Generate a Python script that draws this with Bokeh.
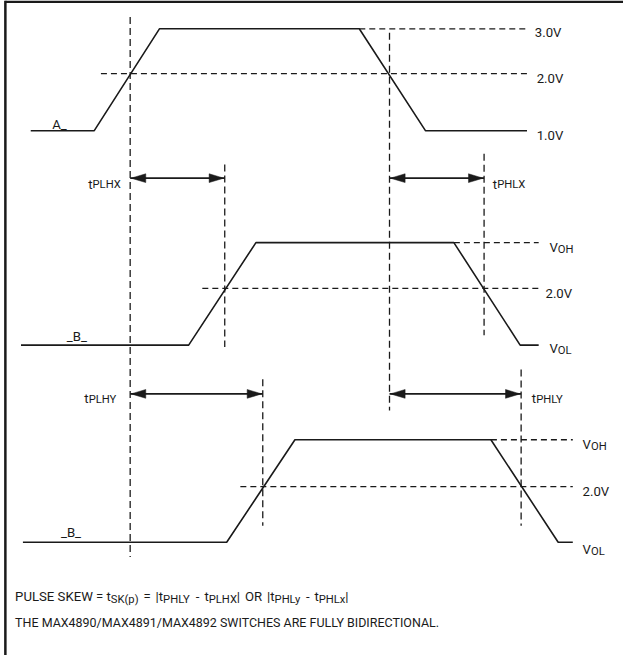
from bokeh.plotting import figure
from bokeh.models import Range1d
from bokeh.core.properties import value
from bokeh.embed import file_html
from bokeh.resources import INLINE

FONT = "Roboto"
INK = "#1a1a1a"

# ---- waveform data (diagram units = reference pixels, y grows downward) ----
a_x = [31, 96, 163, 368, 436, 540]
a_y = [133.5, 133.5, 29, 29, 133.5, 133.5]
b1_x = [21, 193, 262, 465, 533, 552]
b1_y = [353, 353, 248, 248, 353, 353]
b2_x = [23, 232, 302, 503, 572, 587]
b2_y = [555, 555, 450, 450, 555, 555]

# horizontal reference (dashed) levels: x0, x1, y
href_x0 = [368, 103, 465, 207, 503, 246]
href_x1 = [540, 540, 552, 552, 587, 587]
href_y = [29, 75, 248, 295, 450, 498]

# vertical timing markers: x, y0, y1
vref_x = [133, 230, 399, 496, 269, 534]
vref_y0 = [17, 168, 33, 157, 388, 378]
vref_y1 = [570, 355, 420, 343, 538, 538]

# timing arrows: x0, x1, y
arr_x0 = [133, 399, 133, 399]
arr_x1 = [230, 496, 269, 534]
arr_y = [182, 182, 403, 403]

# level labels
lvl_text = ["3.0V", "2.0V", "1.0V", "2.0V", "2.0V"]
lvl_x = [548, 550, 550, 559, 597]
lvl_y = [33, 80, 138, 300, 503]

# timing labels
tl_sub = ["PLHX", "PHLX", "PLHY", "PHLY"]
tl_x = [90, 505, 86, 545]
tl_y = [188, 188, 408, 408]

# V levels
vl_sub = ["OH", "OL", "OH", "OL"]
vl_x = [563, 563, 597, 597]
vl_y = [253, 357, 455, 562]

REF_W, REF_H = 639, 671
FIG_W, FIG_H = 623, 655
K = FIG_W / REF_W          # screen px per diagram unit

M = 13.5 * K   # main text size (px)
S = 11.5 * K   # subscript size (px)

# approximate Roboto advance widths (em)
W = {" ": .248, "(": .342, ")": .348, "-": .276, ".": .262, "/": .411, "=": .549,
     "|": .243, "_": .441, "A": .652, "B": .623, "C": .651, "D": .656, "E": .567,
     "F": .552, "H": .713, "I": .272, "K": .627, "L": .538, "M": .873, "N": .713,
     "O": .687, "P": .631, "R": .616, "S": .593, "T": .596, "U": .648, "V": .637,
     "W": .887, "X": .627, "Y": .601, "p": .56, "t": .327, "x": .49, "y": .474}


def width(s, size):
    """width in diagram units"""
    return sum(W.get(c, .562) for c in s) * size / K


p = figure(width=FIG_W, height=FIG_H, x_range=Range1d(0, REF_W), y_range=Range1d(REF_H, 0),
           output_backend="svg", toolbar_location=None,
           x_axis_location=None, y_axis_location=None, min_border=0)
p.grid.visible = False
p.outline_line_color = None
p.background_fill_color = "white"
p.border_fill_color = "white"

# frame edges (top and left)
p.line([5, 5], [0, REF_H], line_color=INK, line_width=2.5)
p.line([5, REF_W], [1.2, 1.2], line_color=INK, line_width=2.5)

# waveforms
for xs, ys in ((a_x, a_y), (b1_x, b1_y), (b2_x, b2_y)):
    p.line(xs, ys, line_color=INK, line_width=1.6)

# dashed references
p.segment(x0=href_x0, x1=href_x1, y0=href_y, y1=href_y,
          line_color=INK, line_width=1.3, line_dash="6 4")
p.segment(x0=vref_x, x1=vref_x, y0=vref_y0, y1=vref_y1,
          line_color=INK, line_width=1.3, line_dash="7 4")

# arrows with slender heads
p.segment(x0=arr_x0, x1=arr_x1, y0=arr_y, y1=arr_y, line_color=INK, line_width=1.6)
HL, HW = 15, 4.5
hx, hy = [], []
for x0, x1, y in zip(arr_x0, arr_x1, arr_y):
    x0 += 1
    x1 -= 1
    hx.append([x0, x0 + HL, x0 + HL])
    hy.append([y, y - HW, y + HW])
    hx.append([x1, x1 - HL, x1 - HL])
    hy.append([y, y - HW, y + HW])
p.patches(hx, hy, fill_color=INK, line_color=INK, line_width=0.5)


def txt(x, y, s, size=M):
    p.text(x=[x], y=[y], text=[s], text_font=value(FONT), text_font_size=f"{size:.2f}px",
           text_baseline="alphabetic", text_align="left", text_color=INK)


def sub(x, y, s, size=S, drop=2.5):
    txt(x, y + drop, s, size)


# level labels
for s, x, y in zip(lvl_text, lvl_x, lvl_y):
    txt(x, y, s)

txt(53, 127, "A_")
txt(68, 344, "_B_")
txt(62, 545, "_B_")

for s, x, y in zip(vl_sub, vl_x, vl_y):
    txt(x, y, "V")
    sub(x + width("V", M), y, s, drop=2)

for s, x, y in zip(tl_sub, tl_x, tl_y):
    txt(x, y, "t")
    sub(x + width("t", M), y, s, drop=1)

# formula line: pieces laid out left to right, spaces stretched to the reference extent
pieces = [("PULSE SKEW = t", "m"), ("SK(p)", "s"), (" ", "g"), ("=", "m"), (" ", "g"),
          ("|t", "m"), ("PHLY", "s"), (" ", "g"), ("-", "m"), (" ", "g"), ("t", "m"),
          ("PLHX", "s"), ("|", "m"), (" ", "g"), ("OR", "m"), (" ", "g"), ("|t", "m"),
          ("PHLy", "s"), (" ", "g"), ("-", "m"), (" ", "g"), ("t", "m"), ("PHLx", "s"),
          ("|", "m")]
X0, X1, FY = 15, 357, 611
natural = sum(width(s, M) if k == "m" else width(s, S) for s, k in pieces if k != "g")
ngap = sum(1 for _, k in pieces if k == "g")
gap = (X1 - X0 - natural) / ngap
x = X0
for s, k in pieces:
    if k == "g":
        x += gap
        continue
    if k == "m":
        txt(x, FY, s)
        x += width(s, M)
    else:
        sub(x, FY, s)
        x += width(s, S)

txt(15, 637, "THE MAX4890/MAX4891/MAX4892 SWITCHES ARE FULLY BIDIRECTIONAL.", size=12.8 * K)

open("out.html", "w").write(file_html(p, INLINE))
